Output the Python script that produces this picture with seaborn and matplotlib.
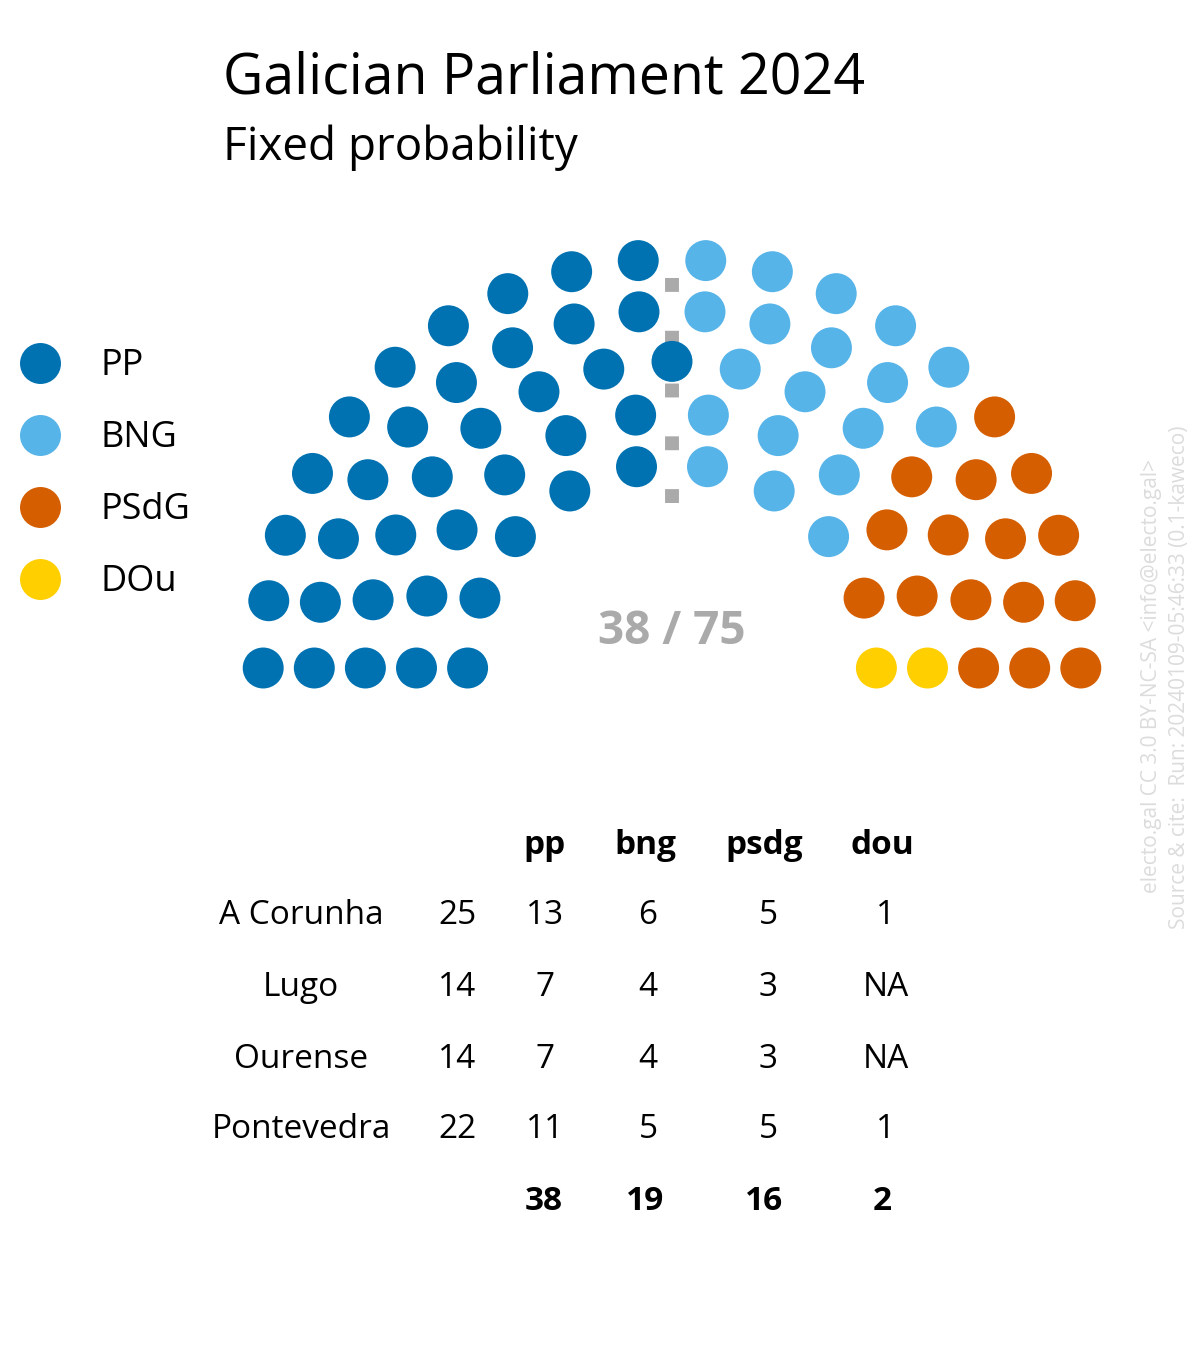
import numpy as np
import pandas as pd
import seaborn as sns
import matplotlib.pyplot as plt

# parties and seats
parties = ['PP', 'BNG', 'PSdG', 'DOu']
party_colors = ['#0072B2', '#56B4E9', '#D55E00', '#FFCF00']

# seats by district
districts = ['A Corunha', 'Lugo', 'Ourense', 'Pontevedra']
district_seats = [25, 14, 14, 22]
pp = [13, 7, 7, 11]
bng = [6, 4, 4, 5]
psdg = [5, 3, 3, 5]
dou = [1, np.nan, np.nan, 1]

# hemicycle rings
ring_radius = [4, 5, 6, 7, 8]
ring_seats = [10, 12, 15, 18, 20]

totals = [int(np.nansum(c)) for c in (pp, bng, psdg, dou)]
n_seats = sum(district_seats)

rows = []
for r, n in zip(ring_radius, ring_seats):
    for a in np.linspace(np.pi, 0, n):
        rows.append((r, round(a, 6)))
seats = pd.DataFrame(rows, columns=['r', 'angle'])
seats = seats.sort_values(['angle', 'r'], ascending=[False, False]).reset_index(drop=True)
seats['x'] = seats['r'] * np.cos(seats['angle'])
seats['y'] = seats['r'] * np.sin(seats['angle'])
seats['party'] = np.repeat(parties, totals)

sns.set_theme(style='white')
plt.rcParams['font.family'] = ['Open Sans', 'DejaVu Sans']
plt.rcParams['text.color'] = 'black'

W, H = 1200, 1350
unit = 51.1
cx, cy = 672, 668


def fx(px):
    return px / W


def fy(py):
    return 1 - py / H


fig = plt.figure(figsize=(12, 13.5), dpi=100)
ax = fig.add_axes([0, 0, 1, 1])
ax.set_xlim(-cx / unit, (W - cx) / unit)
ax.set_ylim(-(H - cy) / unit, cy / unit)
ax.axis('off')

# majority line
ax.plot([0, 0], [(cy - 278) / unit, (cy - 504) / unit], color='#AAAAAA', lw=10,
        linestyle=(0, (1.0, 2.8)), dash_capstyle='butt', zorder=1)

sns.scatterplot(data=seats, x='x', y='y', hue='party', hue_order=parties,
                palette=party_colors, s=870, linewidth=0, legend=False, ax=ax, zorder=3)

ax.text(0, (cy - 632) / unit, f'{totals[0]} / {n_seats}', ha='center', va='center',
        fontsize=33, fontweight='bold', color='#AAAAAA')

# legend
for i, (p, c) in enumerate(zip(parties, party_colors)):
    y = 363 + 72 * i
    ax.scatter([fx(40)], [fy(y)], s=870, color=c, linewidth=0, transform=fig.transFigure)
    fig.text(fx(100), fy(y + 3), p, fontsize=26, va='center', ha='left')

# titles
fig.text(fx(223), fy(94), 'Galician Parliament 2024', fontsize=40, va='baseline')
fig.text(fx(223), fy(160), 'Fixed probability', fontsize=33, va='baseline')

# table
head_x = [544, 645, 764, 882]
val_x = [545, 648, 768, 886]
for x, h in zip(head_x, ['pp', 'bng', 'psdg', 'dou']):
    fig.text(fx(x), fy(846), h, fontsize=24, fontweight='bold', ha='center', va='center')
row_y = [916, 988, 1059, 1130]
for y, d, s, *vals in zip(row_y, districts, district_seats, pp, bng, psdg, dou):
    fig.text(fx(301), fy(y), d, fontsize=24, ha='center', va='center')
    fig.text(fx(457), fy(y), str(s), fontsize=24, ha='center', va='center')
    for x, v in zip(val_x, vals):
        txt = 'NA' if pd.isna(v) else str(int(v))
        fig.text(fx(x), fy(y), txt, fontsize=24, ha='center', va='center')
for x, t in zip(head_x, totals):
    fig.text(fx(x), fy(1201), str(t), fontsize=24, fontweight='bold', ha='center', va='center')

# credits
fig.text(fx(1151), fy(676), 'electo.gal CC 3.0 BY-NC-SA <info@electo.gal>', rotation=90,
         fontsize=15, color='#DCDCDC', ha='center', va='center')
fig.text(fx(1179), fy(677), 'Source & cite:  Run: 20240109-05:46:33 (0.1-kaweco)', rotation=90,
         fontsize=15, color='#DCDCDC', ha='center', va='center')

fig.savefig('out.png', dpi=100, facecolor='white')
